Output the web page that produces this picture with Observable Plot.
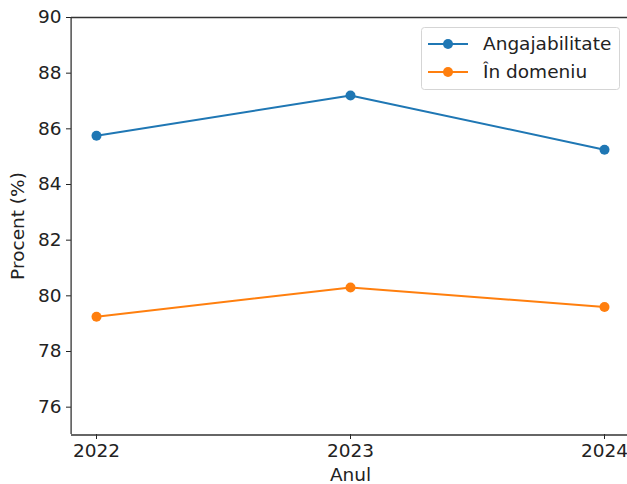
<!DOCTYPE html>
<html>
<head>
<meta charset="utf-8">
<script src="https://cdn.jsdelivr.net/npm/d3@7"></script>
<script src="https://cdn.jsdelivr.net/npm/@observablehq/plot@0.6"></script>
<style>
  html, body { margin: 0; padding: 0; background: #fff; }
  svg { font-family: "DejaVu Sans", sans-serif; }
</style>
</head>
<body>
<div id="chart"></div>
<script>
const years = [2022, 2023, 2024];
const angajabilitate = [85.75, 87.2, 85.25];
const inDomeniu = [79.25, 80.3, 79.6];
const seriesNames = ["Angajabilitate", "În domeniu"];
const seriesColors = ["#1f77b4", "#ff7f0e"];
const yTicks = [76, 78, 80, 82, 84, 86, 88, 90];
const xTicks = [2022, 2023, 2024];

const data = [];
years.forEach((y, i) => data.push({year: y, value: angajabilitate[i], series: seriesNames[0]}));
years.forEach((y, i) => data.push({year: y, value: inDomeniu[i], series: seriesNames[1]}));

const W = 627, H = 484;
const FS = 18.5;
const chart = Plot.plot({
  width: W, height: H,
  marginLeft: 71, marginTop: 17, marginBottom: 50, marginRight: 0,
  style: {fontFamily: "DejaVu Sans, sans-serif", background: "#fff", color: "#222"},
  x: {domain: [2021.9, 2024.1], range: [70.6, 629.4]},
  y: {domain: [75, 90], range: [434.5, 17]},
  color: {domain: seriesNames, range: seriesColors},
  marks: [
    Plot.axisY(yTicks, {tickSize: 5, tickPadding: 5, fontSize: FS, label: null, stroke: "#222"}),
    Plot.axisX(xTicks, {tickSize: 5, tickPadding: 4, fontSize: FS, label: null, tickFormat: d => String(d)}),
    Plot.text(["Procent (%)"], {frameAnchor: "left", textAnchor: "middle", dx: -53, rotate: -90, fontSize: FS, fill: "#222"}),
    Plot.text(["Anul"], {x: 2023, frameAnchor: "bottom", lineAnchor: "bottom", dy: 46, fontSize: FS, fill: "#222"}),
    Plot.line(data, {x: "year", y: "value", stroke: "series", strokeWidth: 2}),
    Plot.dot(data, {x: "year", y: "value", fill: "series", r: 5}),
    Plot.ruleY([75, 90], {stroke: "#333", strokeWidth: 1.3}),
    Plot.ruleX([2021.9], {stroke: "#333", strokeWidth: 1.3})
  ]
});
document.getElementById("chart").appendChild(chart);

// legend inside the plot (upper right)
const svg = d3.select(chart);
const lg = svg.append("g").attr("font-family", "DejaVu Sans, sans-serif").attr("text-anchor", "start");
lg.append("rect").attr("x", 421.5).attr("y", 27.5).attr("width", 198).attr("height", 62)
  .attr("rx", 3).attr("fill", "#fff").attr("fill-opacity", 0.8).attr("stroke", "#d5d5d5");
seriesNames.forEach((name, i) => {
  const cy = 44 + i * 28;
  lg.append("line").attr("x1", 428).attr("x2", 468).attr("y1", cy).attr("y2", cy)
    .attr("stroke", seriesColors[i]).attr("stroke-width", 2);
  lg.append("circle").attr("cx", 448).attr("cy", cy).attr("r", 5).attr("fill", seriesColors[i]);
  lg.append("text").attr("x", 483).attr("y", cy).attr("dy", "0.35em")
    .attr("text-anchor", "start").attr("font-size", FS).attr("fill", "#222").text(name);
});
</script>
</body>
</html>
